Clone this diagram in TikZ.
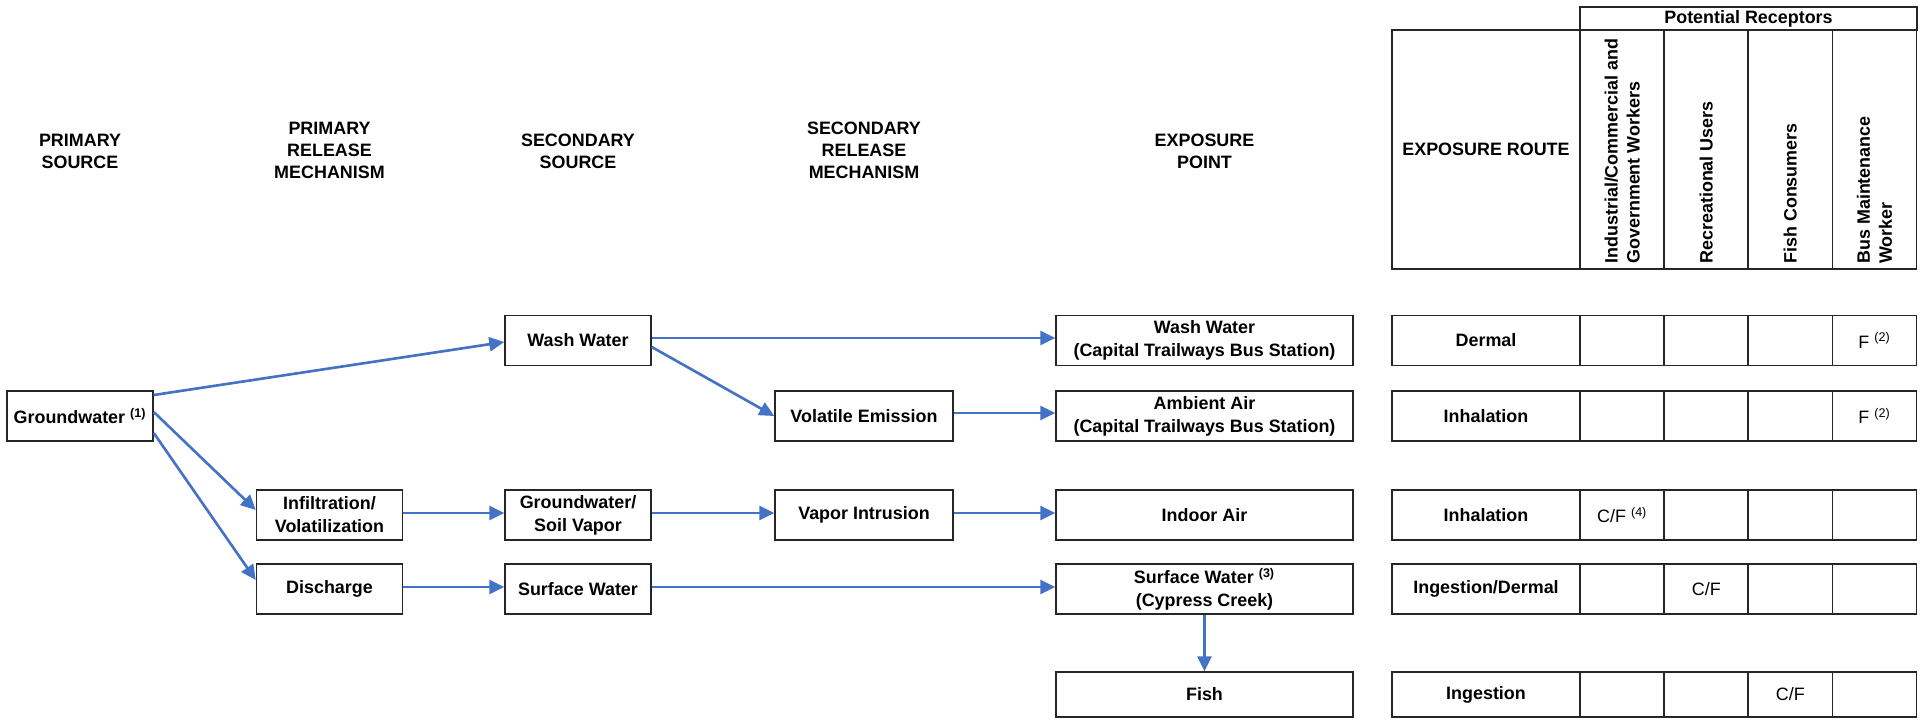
\documentclass[tikz,border=0pt]{standalone}
\usepackage{fontspec}
\setmainfont{Liberation Sans}
\usetikzlibrary{arrows.meta}
\definecolor{flowblue}{RGB}{68,114,196}
\definecolor{boxline}{RGB}{38,38,38}
\tikzset{
  box/.style={draw=boxline, line width=0.9pt, minimum width=2.92cm, minimum height=1cm, inner sep=1pt, align=center, font=\bfseries\fontsize{10.2}{13}\selectfont},
  cell/.style={draw=boxline, line width=0.9pt, minimum width=1.685cm, minimum height=1cm, inner sep=0pt},
  celltext/.style={font=\fontsize{10.2}{13}\selectfont},
  head/.style={align=center, font=\bfseries\fontsize{10.2}{12.5}\selectfont},
  receptor/.style={rotate=90, anchor=west, align=left, inner sep=0pt, font=\bfseries\fontsize{10.2}{12.5}\selectfont},
  flow/.style={flowblue, line width=1.5pt, -{Triangle[length=8.5pt,width=8pt]}},
}
\begin{document}
\begin{tikzpicture}[x=0.02cm, y=-0.02cm]
	\useasboundingbox (0,0) rectangle (1923,720);
	% column headings
	\node[head] (hps) at (80,151) {PRIMARY\\SOURCE};
	\node[head] (hprm) at (329.5,150) {PRIMARY\\RELEASE\\MECHANISM};
	\node[head] (hss) at (578,151) {SECONDARY\\SOURCE};
	\node[head] (hsrm) at (864,150) {SECONDARY\\RELEASE\\MECHANISM};
	\node[head] (hep) at (1204.5,151) {EXPOSURE\\POINT};
	% sources and mechanisms
	\node[box] (gw) at (80,416) {Groundwater \textsuperscript{(1)}};
	\node[box] (ww) at (578,340.5) {Wash Water};
	\node[box] (inf) at (329.5,515) {Infiltration/\\Volatilization};
	\node[box] (dis) at (329.5,589) {Discharge};
	\node[box] (gsv) at (578,515) {Groundwater/\\Soil Vapor};
	\node[box] (sw) at (578,589) {Surface Water};
	\node[box, minimum width=3.56cm] (ve) at (864,416) {Volatile Emission};
	\node[box, minimum width=3.56cm] (vi) at (864,515) {Vapor Intrusion};
	% exposure points
	\node[box, minimum width=5.94cm] (eww) at (1204.5,340.5) {Wash Water\\(Capital Trailways Bus Station)};
	\node[box, minimum width=5.94cm] (eaa) at (1204.5,416) {Ambient Air\\(Capital Trailways Bus Station)};
	\node[box, minimum width=5.94cm] (eia) at (1204.5,515) {Indoor Air};
	\node[box, minimum width=5.94cm] (esw) at (1204.5,589) {Surface Water \textsuperscript{(3)}\\(Cypress Creek)};
	\node[box, minimum width=5.94cm, minimum height=0.9cm] (efi) at (1204.5,694.5) {Fish};
	% arrows
	\draw[flow] ([yshift=0.42cm]gw.east) -- ([yshift=-0.03cm]ww.west);
	\draw[flow] ([yshift=0.08cm]gw.east) -- ([yshift=0.1cm]inf.west);
	\draw[flow] ([yshift=-0.34cm]gw.east) -- ([yshift=0.18cm]dis.west);
	\draw[flow] ([yshift=0.05cm]ww.east) -- ([yshift=0.05cm]eww.west);
	\draw[flow] ([yshift=-0.13cm]ww.east) -- (ve.west);
	\draw[flow] ([yshift=0.06cm]ve.east) -- ([yshift=0.06cm]eaa.west);
	\draw[flow] ([yshift=0.04cm]inf.east) -- ([yshift=0.04cm]gsv.west);
	\draw[flow] ([yshift=0.04cm]gsv.east) -- ([yshift=0.04cm]vi.west);
	\draw[flow] ([yshift=0.04cm]vi.east) -- ([yshift=0.04cm]eia.west);
	\draw[flow] ([yshift=0.04cm]dis.east) -- ([yshift=0.04cm]sw.west);
	\draw[flow] ([yshift=0.04cm]sw.east) -- ([yshift=0.04cm]esw.west);
	\draw[flow] (esw.south) -- (efi.north);
	% receptor table heading
	\node[cell, minimum width=6.74cm, minimum height=0.46cm, font=\bfseries\fontsize{10.2}{12}\selectfont] (prec) at (1748.5,18.5) {Potential Receptors};
	\node[cell, minimum width=3.76cm, minimum height=4.78cm, font=\bfseries\fontsize{10.2}{12}\selectfont] (hroute) at (1486,149.5) {EXPOSURE ROUTE};
	\foreach \c/\xx in {1/1622.25, 2/1706.25, 3/1790.25, 4/1874.5}
		\node[cell, minimum height=4.78cm] (hcol\c) at (\xx,149.5) {};
	\node[receptor] (rind) at (1622.25,264) {Industrial/Commercial and\\Government Workers};
	\node[receptor] (rrec) at (1706.25,264) {Recreational Users};
	\node[receptor] (rfish) at (1790.25,264) {Fish Consumers};
	\node[receptor] (rbus) at (1874.5,264) {Bus Maintenance\\Worker};
	% receptor table rows
	\foreach \r/\yy/\hh/\route in {1/340.5/1cm/Dermal, 2/416/1cm/Inhalation, 3/515/1cm/Inhalation, 4/589/1cm/{Ingestion/Dermal}, 5/694.5/0.9cm/Ingestion}{
		\node[box, minimum width=3.76cm, minimum height=\hh] (route\r) at (1486,\yy) {\route};
		\foreach \c/\xx in {1/1622.25, 2/1706.25, 3/1790.25, 4/1874.5}
			\node[cell, minimum height=\hh] (cell\r\c) at (\xx,\yy) {};
	}
	\node[celltext] (t14) at (cell14) {F \textsuperscript{(2)}};
	\node[celltext] (t24) at (cell24) {F \textsuperscript{(2)}};
	\node[celltext] (t31) at (cell31) {C/F \textsuperscript{(4)}};
	\node[celltext] (t42) at (cell42) {C/F};
	\node[celltext] (t53) at (cell53) {C/F};
\end{tikzpicture}
\end{document}
